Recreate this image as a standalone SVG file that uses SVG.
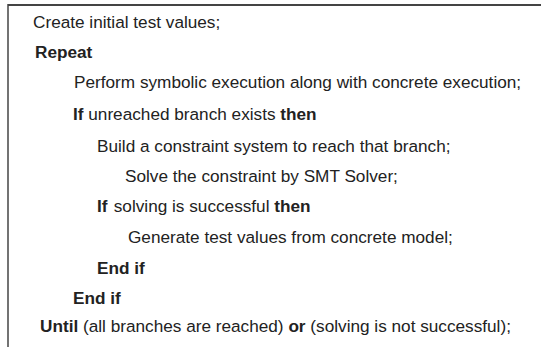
<svg xmlns="http://www.w3.org/2000/svg" width="541" height="347" viewBox="0 0 541 347">
<style>
text{font-family:"Liberation Sans",Arial,sans-serif;font-size:17.2px;fill:#222}
.b{font-weight:bold}
.frame{stroke:#444;fill:none}
</style>
<rect width="541" height="347" fill="#fff"/>
<g id="frame">
<line class="frame" x1="8" y1="5" x2="541" y2="5" stroke-width="2"/>
<line class="frame" x1="8" y1="4" x2="8" y2="347" stroke-width="1.5"/>
</g>
<g id="line1"><text x="33" y="28">Create initial test values;</text></g>
<g id="line2"><text x="35" y="58" class="b">Repeat</text></g>
<g id="line3"><text x="74" y="88">Perform symbolic execution along with concrete execution;</text></g>
<g id="line4"><text x="73" y="120"><tspan class="b">If</tspan> unreached branch exists <tspan class="b">then</tspan></text></g>
<g id="line5"><text x="97" y="152">Build a constraint system to reach that branch;</text></g>
<g id="line6"><text x="125" y="182">Solve the constraint by SMT Solver;</text></g>
<g id="line7"><text x="97" y="212"><tspan class="b">If</tspan><tspan dx="1.5"> solving is successful </tspan><tspan class="b">then</tspan></text></g>
<g id="line8"><text x="128" y="243">Generate test values from concrete model;</text></g>
<g id="line9"><text x="97" y="274" class="b">End if</text></g>
<g id="line10"><text x="73" y="304" class="b">End if</text></g>
<g id="line11"><text x="40" y="332"><tspan class="b">Until</tspan> (all branches are reached) <tspan class="b">or</tspan> (solving is not successful);</text></g>
</svg>
